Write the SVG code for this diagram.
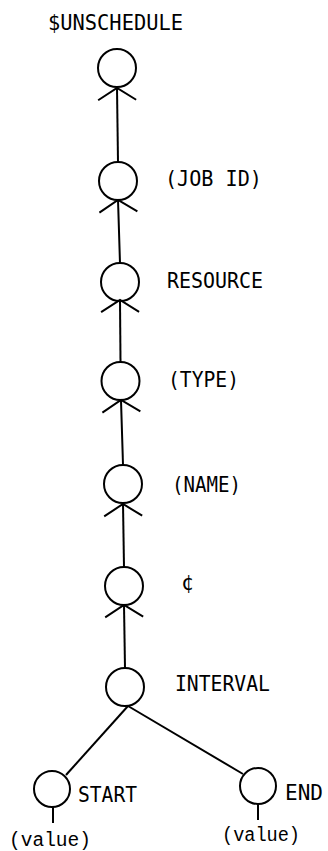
<svg xmlns="http://www.w3.org/2000/svg" width="328" height="851" viewBox="0 0 328 851">
<style>
.n{fill:none;stroke:#000;stroke-width:2}
.c{stroke:#000;stroke-width:2;fill:none}
.t{font-family:"DejaVu Sans Mono","Liberation Mono",monospace;font-size:21px;fill:#000}
.v{font-family:"Liberation Mono","Courier New",monospace;font-size:20px;fill:#000}
</style>
<defs>
<marker id="a" markerUnits="userSpaceOnUse" viewBox="-15 -22 18 44" refX="0" refY="0" markerWidth="18" markerHeight="44" orient="auto">
<path d="M-12,-19 L0,0 L-12,19" fill="none" stroke="#000" stroke-width="2"/>
</marker>
</defs>
<rect width="328" height="851" fill="#fff"/>
<g id="connectors">
<line class="c" x1="118" y1="162" x2="117" y2="88" marker-end="url(#a)"/>
<line class="c" x1="120" y1="263" x2="118" y2="200" marker-end="url(#a)"/>
<line class="c" x1="120.5" y1="362" x2="120" y2="300" marker-end="url(#a)"/>
<line class="c" x1="123" y1="465" x2="121" y2="400" marker-end="url(#a)"/>
<line class="c" x1="124" y1="567" x2="123" y2="504" marker-end="url(#a)"/>
<line class="c" x1="125" y1="668" x2="124" y2="605" marker-end="url(#a)"/>
<line class="c" x1="128" y1="706" x2="66" y2="775"/>
<line class="c" x1="128" y1="706" x2="243" y2="774"/>
<line class="c" x1="53" y1="807" x2="53" y2="823"/>
<line class="c" x1="258" y1="804" x2="258" y2="820"/>
</g>
<g id="unschedule"><circle class="n" cx="117" cy="68" r="19"/><text class="t" x="48" y="30" textLength="135" lengthAdjust="spacingAndGlyphs">$UNSCHEDULE</text></g>
<g id="jobid"><circle class="n" cx="118" cy="181" r="19"/><text class="t" x="165" y="186" textLength="97" lengthAdjust="spacingAndGlyphs">(JOB ID)</text></g>
<g id="resource"><circle class="n" cx="120" cy="282" r="19"/><text class="t" x="167" y="288" textLength="96" lengthAdjust="spacingAndGlyphs">RESOURCE</text></g>
<g id="type"><circle class="n" cx="120.5" cy="381" r="19"/><text class="t" x="168" y="387" textLength="71" lengthAdjust="spacingAndGlyphs">(TYPE)</text></g>
<g id="name"><circle class="n" cx="123" cy="484" r="19"/><text class="t" x="172" y="492" textLength="69" lengthAdjust="spacingAndGlyphs">(NAME)</text></g>
<g id="cent"><circle class="n" cx="124" cy="586" r="19"/><text class="t" x="181" y="590">¢</text></g>
<g id="interval"><circle class="n" cx="125" cy="687" r="19"/><text class="t" x="175" y="691" textLength="95" lengthAdjust="spacingAndGlyphs">INTERVAL</text></g>
<g id="start"><circle class="n" cx="52" cy="789" r="18"/><text class="t" x="78" y="802" textLength="59" lengthAdjust="spacingAndGlyphs">START</text><text class="v" x="9" y="846" textLength="82" lengthAdjust="spacingAndGlyphs">(value)</text></g>
<g id="end"><circle class="n" cx="258" cy="786" r="18"/><text class="t" x="285" y="800" textLength="38" lengthAdjust="spacingAndGlyphs">END</text><text class="v" x="222" y="841" textLength="78" lengthAdjust="spacingAndGlyphs">(value)</text></g>
</svg>
